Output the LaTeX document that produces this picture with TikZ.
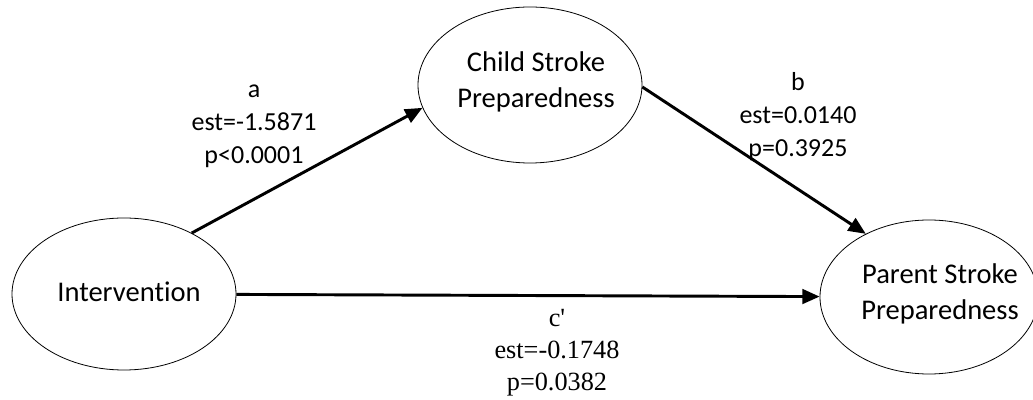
\documentclass[tikz,border=0pt]{standalone}
\usepackage{fontspec}
\setmainfont[Ligatures=NoCommon]{Carlito}
\newfontfamily\serifest{Liberation Serif}
\usetikzlibrary{positioning, arrows.meta, shapes.geometric}

\begin{document}
\begin{tikzpicture}[
        x=0.75pt, y=0.75pt,
        % ----- global styles -----
        >={Triangle[length=13pt, width=11pt]},
        % latent variables
        latent/.style={ellipse, draw, line width=0.6pt, minimum width=168pt, minimum height=117pt, inner sep=0pt},
        vartext/.style={align=center, inner sep=0pt, font=\fontsize{21.4}{27.5}\selectfont},
        % path estimates
        est/.style={align=center, inner sep=0pt, font=\fontsize{19.5}{24.75}\selectfont},
        estserif/.style={align=center, inner sep=0pt, font=\serifest\fontsize{19.7}{24}\selectfont},
        link/.style={->, line width=2.2pt}
    ]
    \useasboundingbox (0,0) rectangle (1033,400);

    \node[latent, minimum height=114pt] (int) at (124,106) {};
    \node[vartext] (inttxt) at (129,108) {Intervention};
    \node[latent] (child) at (530,315) {};
    \node[vartext] (childtxt) at (536,318) {Child Stroke\\Preparedness};
    \node[latent, minimum width=163.5pt, minimum height=115.5pt] (parent) at (929,103) {};
    \node[vartext] (parenttxt) at (940,106) {Parent Stroke\\Preparedness};

    % ----- estimates -----
    \node[est] (alab) at (254,274) {a\\est=-1.5871\\p<0.0001};
    \node[est] (blab) at (798,283) {b\\est=0.0140\\p=0.3925};
    \node[estserif] (clab) at (557,47) {c\textquotesingle\\est=-0.1748\\p=0.0382};

    % ----- arrows -----
    \path[link]
    (int.42.7) edge (child.192.6)
    (child.-1.5) edge (parent.135)
    (int) edge (parent);
\end{tikzpicture}
\end{document}
